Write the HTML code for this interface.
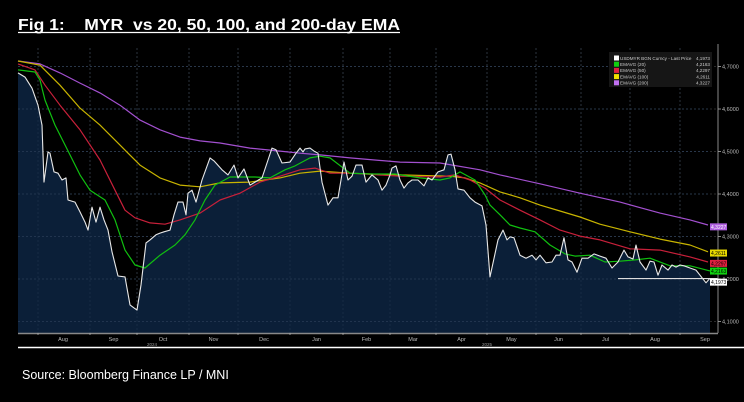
<!DOCTYPE html>
<html><head><meta charset="utf-8"><style>
html,body{margin:0;padding:0;background:#000;width:744px;height:402px;overflow:hidden}
svg{display:block}
</style></head><body>
<svg id="c" width="744" height="402" xmlns="http://www.w3.org/2000/svg">
<text x="18" y="30" fill="#fff" font-family="Liberation Sans, sans-serif" font-weight="bold" font-size="16" textLength="382" lengthAdjust="spacingAndGlyphs" style="white-space:pre" xml:space="preserve">Fig 1:    MYR  vs 20, 50, 100, and 200-day EMA</text>
<line x1="18" y1="32.5" x2="400" y2="32.5" stroke="#fff" stroke-width="1.2"/>
<g id="plot"></g>
<line x1="18" y1="347.5" x2="744" y2="347.5" stroke="#fff" stroke-width="1.5"/>
<text x="22" y="379" fill="#fff" font-family="Liberation Sans, sans-serif" font-size="12.5">Source: Bloomberg Finance LP / MNI</text>
</svg>
<script>
// Session index (trading-day position) and values
const priceT = [0,7,14,20,24,26,30,32,36,40,44,48,50,57,62,67,70,74,78,82,86,90,94,100,107,112,116,119,123,128,132,138,142,146,152,156,160,165,168,170,174,178,184,192,196,204,210,216,220,226,232,244,250,254,258,264,272,278,282,285,287,292,296,300,304,310,315,320,326,330,334,338,344,348,354,360,364,368,372,374,378,382,386,390,394,400,406,410,414,420,426,430,433,437,440,446,452,457,464,468,472,480,485,489,492,496,502,508,514,518,522,528,534,538,542,546,550,554,559,564,570,576,582,588,594,600,606,610,615,618,622,628,632,636,640,644,650,654,658,662,666,672,678,682,688,692];
const priceV = [4.685,4.675,4.649,4.609,4.562,4.428,4.499,4.496,4.452,4.449,4.433,4.438,4.386,4.381,4.358,4.334,4.315,4.369,4.334,4.369,4.339,4.315,4.264,4.207,4.205,4.139,4.132,4.127,4.186,4.285,4.292,4.304,4.308,4.311,4.315,4.351,4.381,4.381,4.351,4.402,4.409,4.381,4.433,4.485,4.478,4.457,4.445,4.468,4.438,4.459,4.421,4.438,4.480,4.508,4.504,4.473,4.475,4.496,4.508,4.499,4.506,4.508,4.501,4.496,4.428,4.374,4.391,4.391,4.475,4.433,4.442,4.468,4.468,4.428,4.445,4.433,4.409,4.421,4.445,4.461,4.466,4.433,4.414,4.426,4.433,4.433,4.419,4.438,4.433,4.452,4.457,4.492,4.494,4.457,4.412,4.409,4.391,4.381,4.372,4.327,4.205,4.292,4.315,4.292,4.299,4.297,4.256,4.249,4.256,4.245,4.256,4.238,4.240,4.256,4.256,4.297,4.245,4.240,4.216,4.249,4.249,4.259,4.254,4.249,4.226,4.240,4.268,4.252,4.247,4.280,4.240,4.221,4.242,4.240,4.209,4.233,4.221,4.233,4.228,4.233,4.231,4.226,4.221,4.209,4.191,4.202];
const ema20T = [0,17,22,27,37,52,62,72,87,97,107,117,127,142,157,167,177,187,197,212,227,237,252,267,277,292,302,312,332,352,377,402,422,432,442,457,467,472,482,492,502,517,532,547,557,572,587,602,617,632,652,672,692];
const ema20V = [4.692,4.687,4.668,4.621,4.562,4.492,4.445,4.409,4.386,4.339,4.268,4.233,4.226,4.256,4.280,4.304,4.339,4.386,4.421,4.440,4.440,4.440,4.438,4.457,4.466,4.485,4.489,4.485,4.449,4.447,4.447,4.438,4.433,4.438,4.452,4.433,4.398,4.374,4.351,4.327,4.320,4.311,4.280,4.259,4.254,4.256,4.240,4.242,4.245,4.249,4.231,4.231,4.219];
const ema50T = [0,17,27,42,62,82,97,107,117,132,147,162,182,202,222,242,262,282,297,312,332,382,422,437,452,467,482,502,522,542,562,582,612,642,672,690];
const ema50V = [4.706,4.692,4.656,4.609,4.551,4.480,4.409,4.362,4.344,4.332,4.329,4.339,4.355,4.386,4.402,4.428,4.442,4.457,4.461,4.449,4.449,4.442,4.440,4.445,4.433,4.414,4.386,4.362,4.339,4.315,4.301,4.292,4.271,4.268,4.252,4.240];
const ema100T = [0,22,42,62,82,102,122,142,162,182,202,232,262,282,302,332,382,432,447,462,482,502,522,542,562,582,612,642,672,690];
const ema100V = [4.713,4.703,4.656,4.602,4.562,4.515,4.468,4.438,4.421,4.417,4.426,4.428,4.438,4.449,4.454,4.449,4.445,4.442,4.438,4.426,4.405,4.391,4.374,4.360,4.346,4.329,4.311,4.294,4.280,4.264];
const ema200T = [0,22,42,62,82,102,122,142,162,182,202,232,262,282,302,332,382,422,462,482,522,562,602,642,672,690];
const ema200V = [4.713,4.706,4.685,4.661,4.638,4.609,4.574,4.551,4.534,4.525,4.520,4.508,4.501,4.496,4.492,4.485,4.475,4.473,4.457,4.445,4.424,4.402,4.381,4.355,4.339,4.327];
const yTicks = [4.7,4.6,4.5,4.4,4.3,4.2,4.1];
const yTickLabels = ["4,7000","4,6000","4,5000","4,4000","4,3000","4,2000","4,1000"];
const months = ["Aug","Sep","Oct","Nov","Dec","Jan","Feb","Mar","Apr","May","Jun","Jul","Aug","Sep"];
const monthStartT = [20,72,119,171,220,272,325,372,418,469,518,563,612,662];
const legendNames = ["USDMYR BGN Curncy - Last Price","EMAVG (20)","EMAVG (50)","EMAVG (100)","EMAVG (200)"];
const lastValues = [4.1973,4.2163,4.2297,4.2611,4.3227];

const NS="http://www.w3.org/2000/svg";
const X0=18,X1=718,Y0=48,Y1=333,TMAX=692;
const xS=t=>X0+t*(710-X0)/TMAX;
const yS=v=>66.5+(4.7-v)*425;
const g=document.getElementById('plot');
function mk(tag,at,parent){const e=document.createElementNS(NS,tag);for(const k in at)e.setAttribute(k,at[k]);(parent||g).appendChild(e);return e;}

yTicks.forEach((v,i)=>{
  const l=mk('line',{x1:X0,x2:X1,y1:yS(v),y2:yS(v),stroke:'#3a3a3a','stroke-width':0.8,'stroke-dasharray':'2,2'});
  
  
});
monthStartT.forEach(t=>{
  const l=mk('line',{x1:xS(t),x2:xS(t),y1:Y0,y2:Y1,stroke:'#3a3a3a','stroke-width':0.8,'stroke-dasharray':'2,2'});
  
  
});
let d='M'+xS(priceT[0])+','+Y1;
priceT.forEach((t,i)=>{d+=' L'+xS(t).toFixed(1)+','+yS(priceV[i]).toFixed(1);});
d+=' L'+xS(priceT[priceT.length-1])+','+Y1+' Z';
const area=mk('path',{d:d,fill:'#0b1f38'});


yTicks.forEach(v=>{mk('line',{x1:X0,x2:710,y1:yS(v),y2:yS(v),stroke:'#2a3d55','stroke-width':0.7,'stroke-dasharray':'2,2'});});
monthStartT.forEach(t=>{mk('line',{x1:xS(t),x2:xS(t),y1:Y0,y2:Y1,stroke:'#2a3d55','stroke-width':0.7,'stroke-dasharray':'2,2','opacity':0.6});});

function line(T,V,color,name,w){
  const pts=T.map((t,i)=>xS(t).toFixed(1)+','+yS(V[i]).toFixed(1)).join(' ');
  const p=mk('polyline',{points:pts,fill:'none',stroke:color,'stroke-width':w||1.2,'stroke-linejoin':'round'});
  
  
}
line(ema200T,ema200V,'#a350d0','ema200-line');
line(ema100T,ema100V,'#c8b400','ema100-line');
line(ema50T,ema50V,'#c8203a','ema50-line');
line(ema20T,ema20V,'#10c010','ema20-line');
line(priceT,priceV,'#e8e8e8','price-line',1.1);
const sl=mk('line',{x1:618,x2:X1,y1:yS(4.2010),y2:yS(4.2010),stroke:'#ddd','stroke-width':1.2});



const ax=mk('line',{x1:X1,x2:X1,y1:Y0-4,y2:Y1,stroke:'#888','stroke-width':1});


const bx=mk('line',{x1:X0,x2:X1,y1:Y1+0.5,y2:Y1+0.5,stroke:'#888','stroke-width':1.5});


yTicks.forEach((v,i)=>{
  mk('line',{x1:X1,x2:X1+3,y1:yS(v),y2:yS(v),stroke:'#aaa','stroke-width':0.8});
  const tx=mk('text',{x:X1+4,y:yS(v)+2,fill:'#bbb','font-size':5.5,'font-family':'Liberation Sans, sans-serif'});
  tx.textContent=yTickLabels[i];
  
  
});
months.forEach((m,i)=>{
  const t0=monthStartT[i], t1=i<months.length-1?monthStartT[i+1]:monthStartT[i]+50;
  mk('line',{x1:xS(t0),x2:xS(t0),y1:Y1,y2:Y1+2,stroke:'#aaa','stroke-width':0.8});
  const cx=(xS(t0)+xS(t1))/2;
  const tx=mk('text',{x:i===0?63:cx,y:Y1+8,fill:'#bbb','font-size':5.5,'font-family':'Liberation Sans, sans-serif','text-anchor':'middle'});
  tx.textContent=m;
  
  
});
[[152,'2024'],[487,'2025']].forEach(a=>{
  const tx=mk('text',{x:a[0],y:Y1+13,fill:'#999','font-size':4.5,'font-family':'Liberation Sans, sans-serif','text-anchor':'middle'});
  tx.textContent=a[1];
  
  
});

const tagColors=['#ffffff','#10d010','#e02040','#e8d800','#b060e0'];
lastValues.forEach((v,i)=>{
  const yy=[yS(lastValues[0])+2,yS(lastValues[1])-1,yS(lastValues[2])-3,yS(lastValues[3]),yS(lastValues[4])][i];
  const r=mk('rect',{x:710,y:yy-3.5,width:17,height:7,fill:tagColors[i]});
  
  
  const tx=mk('text',{x:711,y:yy+2,fill:i===4?'#fff':'#000','font-size':5,'font-family':'Liberation Sans, sans-serif'});
  tx.textContent=v.toFixed(4).replace('.',',');
  
  
});

const lg=mk('g',{});


mk('rect',{x:609,y:52,width:103,height:35,fill:'#161616'},lg);
const lgCol=['#ffffff','#10d010','#e02040','#f0e000','#c070f0'];
legendNames.forEach((n,i)=>{
  const e=mk('g',{},lg);
  
  
  const y=58+i*6.2;
  mk('rect',{x:614,y:y-2.5,width:5,height:5,fill:lgCol[i]},e);
  const t=mk('text',{x:620,y:y+1.8,fill:'#ccc','font-size':4.6,'font-family':'Liberation Sans, sans-serif'},e);
  t.textContent=n;
  const tv=mk('text',{x:710,y:y+1.8,fill:'#ccc','font-size':4.6,'font-family':'Liberation Sans, sans-serif','text-anchor':'end'},e);
  tv.textContent=lastValues[i].toFixed(4).replace('.',',');
});
</script>
</body></html>
